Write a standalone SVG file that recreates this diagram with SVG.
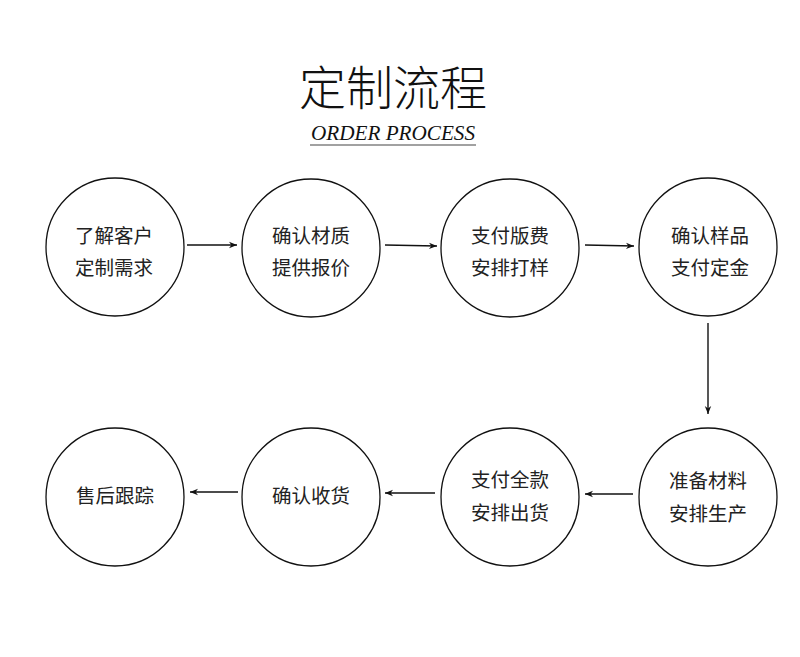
<svg xmlns="http://www.w3.org/2000/svg" width="800" height="657" viewBox="0 0 800 657">
<style>
.n{fill:#fff;stroke:#111;stroke-width:1.3}
.t{font-family:"Noto Sans CJK SC","Noto Sans",sans-serif;font-size:19.5px;fill:#222;text-anchor:middle}
.c{stroke:#111;stroke-width:1.4;fill:none;marker-end:url(#a)}
</style>
<defs>
<marker id="a" viewBox="0 0 10 10" refX="10" refY="5" markerWidth="10" markerHeight="8" markerUnits="userSpaceOnUse" orient="auto">
<path d="M0,1 L10,5 L0,9 L3,5 Z" fill="#111"/>
</marker>
</defs>
<rect width="800" height="657" fill="#fff"/>
<text x="393" y="105" font-family="Noto Sans CJK SC,sans-serif" font-weight="300" font-size="47" text-anchor="middle" fill="#111">定制流程</text>
<text x="393" y="140" font-family="Liberation Serif,serif" font-style="italic" font-size="22" text-anchor="middle" fill="#111" textLength="164" lengthAdjust="spacingAndGlyphs">ORDER  PROCESS</text>
<line x1="310" y1="145" x2="476" y2="145" stroke="#444" stroke-width="1.2"/>
<g id="n1"><circle class="n" cx="115" cy="247" r="69"/><text class="t" x="114" y="243">了解客户</text><text class="t" x="114" y="275">定制需求</text></g>
<g id="n2"><circle class="n" cx="311" cy="248" r="69"/><text class="t" x="311" y="243">确认材质</text><text class="t" x="311" y="275">提供报价</text></g>
<g id="n3"><circle class="n" cx="510" cy="248" r="69"/><text class="t" x="510" y="243">支付版费</text><text class="t" x="510" y="275">安排打样</text></g>
<g id="n4"><circle class="n" cx="708" cy="247" r="69"/><text class="t" x="710" y="243">确认样品</text><text class="t" x="710" y="275">支付定金</text></g>
<g id="n5"><circle class="n" cx="708" cy="497" r="69"/><text class="t" x="708" y="488">准备材料</text><text class="t" x="708" y="521">安排生产</text></g>
<g id="n6"><circle class="n" cx="510" cy="497" r="69"/><text class="t" x="510" y="487">支付全款</text><text class="t" x="510" y="520">安排出货</text></g>
<g id="n7"><circle class="n" cx="311" cy="497" r="69"/><text class="t" x="311" y="503">确认收货</text></g>
<g id="n8"><circle class="n" cx="115" cy="497" r="69"/><text class="t" x="115" y="503">售后跟踪</text></g>
<g id="connectors">
<line class="c" x1="187" y1="245" x2="237" y2="245"/>
<line class="c" x1="385" y1="245" x2="437" y2="246"/>
<line class="c" x1="585" y1="245" x2="634" y2="246"/>
<line class="c" x1="708" y1="323" x2="708" y2="414"/>
<line class="c" x1="633" y1="494" x2="585" y2="494"/>
<line class="c" x1="435" y1="493" x2="385" y2="493"/>
<line class="c" x1="238" y1="492" x2="190" y2="492"/>
</g>
</svg>
